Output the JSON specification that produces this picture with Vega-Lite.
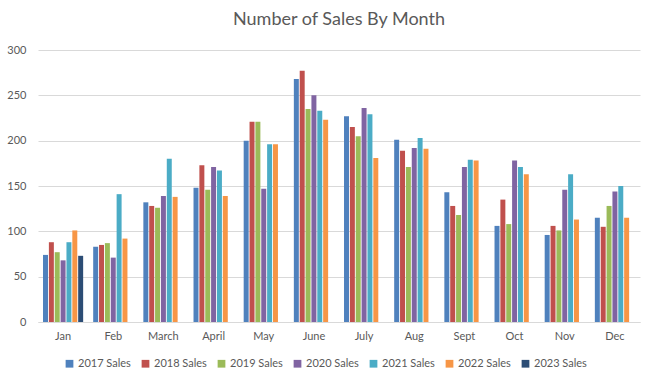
{
  "$schema": "https://vega.github.io/schema/vega-lite/v6.json",
  "autosize": "none",
  "width": 602,
  "height": 272,
  "padding": {"left": 38, "top": 50, "right": 16, "bottom": 68},
  "background": "white",
  "title": {"text": "Number of Sales By Month", "font": "Lato", "fontSize": 18, "fontWeight": "normal", "color": "#595959", "offset": 15, "anchor": "middle"},
  "config": {
    "view": {"stroke": null},
    "font": "Lato",
    "axis": {"labelFont": "Lato", "labelColor": "#595959", "labelFontSize": 11, "titleFontSize": 11}
  },
  "data": {"values": [
    {"month": "Jan", "series": "2017 Sales", "value": 74},
    {"month": "Jan", "series": "2018 Sales", "value": 88},
    {"month": "Jan", "series": "2019 Sales", "value": 77},
    {"month": "Jan", "series": "2020 Sales", "value": 68},
    {"month": "Jan", "series": "2021 Sales", "value": 88},
    {"month": "Jan", "series": "2022 Sales", "value": 101},
    {"month": "Jan", "series": "2023 Sales", "value": 73},
    {"month": "Feb", "series": "2017 Sales", "value": 83},
    {"month": "Feb", "series": "2018 Sales", "value": 85},
    {"month": "Feb", "series": "2019 Sales", "value": 87},
    {"month": "Feb", "series": "2020 Sales", "value": 71},
    {"month": "Feb", "series": "2021 Sales", "value": 141},
    {"month": "Feb", "series": "2022 Sales", "value": 92},
    {"month": "March", "series": "2017 Sales", "value": 132},
    {"month": "March", "series": "2018 Sales", "value": 128},
    {"month": "March", "series": "2019 Sales", "value": 126},
    {"month": "March", "series": "2020 Sales", "value": 139},
    {"month": "March", "series": "2021 Sales", "value": 180},
    {"month": "March", "series": "2022 Sales", "value": 138},
    {"month": "April", "series": "2017 Sales", "value": 148},
    {"month": "April", "series": "2018 Sales", "value": 173},
    {"month": "April", "series": "2019 Sales", "value": 146},
    {"month": "April", "series": "2020 Sales", "value": 171},
    {"month": "April", "series": "2021 Sales", "value": 167},
    {"month": "April", "series": "2022 Sales", "value": 139},
    {"month": "May", "series": "2017 Sales", "value": 200},
    {"month": "May", "series": "2018 Sales", "value": 221},
    {"month": "May", "series": "2019 Sales", "value": 221},
    {"month": "May", "series": "2020 Sales", "value": 147},
    {"month": "May", "series": "2021 Sales", "value": 196},
    {"month": "May", "series": "2022 Sales", "value": 196},
    {"month": "June", "series": "2017 Sales", "value": 268},
    {"month": "June", "series": "2018 Sales", "value": 277},
    {"month": "June", "series": "2019 Sales", "value": 235},
    {"month": "June", "series": "2020 Sales", "value": 250},
    {"month": "June", "series": "2021 Sales", "value": 233},
    {"month": "June", "series": "2022 Sales", "value": 223},
    {"month": "July", "series": "2017 Sales", "value": 227},
    {"month": "July", "series": "2018 Sales", "value": 215},
    {"month": "July", "series": "2019 Sales", "value": 205},
    {"month": "July", "series": "2020 Sales", "value": 236},
    {"month": "July", "series": "2021 Sales", "value": 229},
    {"month": "July", "series": "2022 Sales", "value": 181},
    {"month": "Aug", "series": "2017 Sales", "value": 201},
    {"month": "Aug", "series": "2018 Sales", "value": 189},
    {"month": "Aug", "series": "2019 Sales", "value": 171},
    {"month": "Aug", "series": "2020 Sales", "value": 192},
    {"month": "Aug", "series": "2021 Sales", "value": 203},
    {"month": "Aug", "series": "2022 Sales", "value": 191},
    {"month": "Sept", "series": "2017 Sales", "value": 143},
    {"month": "Sept", "series": "2018 Sales", "value": 128},
    {"month": "Sept", "series": "2019 Sales", "value": 118},
    {"month": "Sept", "series": "2020 Sales", "value": 171},
    {"month": "Sept", "series": "2021 Sales", "value": 179},
    {"month": "Sept", "series": "2022 Sales", "value": 178},
    {"month": "Oct", "series": "2017 Sales", "value": 106},
    {"month": "Oct", "series": "2018 Sales", "value": 135},
    {"month": "Oct", "series": "2019 Sales", "value": 108},
    {"month": "Oct", "series": "2020 Sales", "value": 178},
    {"month": "Oct", "series": "2021 Sales", "value": 171},
    {"month": "Oct", "series": "2022 Sales", "value": 163},
    {"month": "Nov", "series": "2017 Sales", "value": 96},
    {"month": "Nov", "series": "2018 Sales", "value": 106},
    {"month": "Nov", "series": "2019 Sales", "value": 101},
    {"month": "Nov", "series": "2020 Sales", "value": 146},
    {"month": "Nov", "series": "2021 Sales", "value": 163},
    {"month": "Nov", "series": "2022 Sales", "value": 113},
    {"month": "Dec", "series": "2017 Sales", "value": 115},
    {"month": "Dec", "series": "2018 Sales", "value": 105},
    {"month": "Dec", "series": "2019 Sales", "value": 128},
    {"month": "Dec", "series": "2020 Sales", "value": 144},
    {"month": "Dec", "series": "2021 Sales", "value": 150},
    {"month": "Dec", "series": "2022 Sales", "value": 115}
  ]},
  "mark": {"type": "bar"},
  "encoding": {
    "x": {
      "field": "month", "type": "nominal",
      "sort": ["Jan","Feb","March","April","May","June","July","Aug","Sept","Oct","Nov","Dec"],
      "scale": {"paddingInner": 0.2, "paddingOuter": 0.1},
      "axis": {"title": null, "labelAngle": 0, "ticks": false, "domainColor": "#d9d9d9", "labelPadding": 8, "grid": false}
    },
    "xOffset": {
      "field": "series", "type": "nominal",
      "scale": {"domain": ["2017 Sales","2018 Sales","2019 Sales","2020 Sales","2021 Sales","2022 Sales","2023 Sales"], "paddingInner": 0.15}
    },
    "y": {
      "field": "value", "type": "quantitative",
      "scale": {"domain": [0, 300]},
      "axis": {"title": null, "values": [0,50,100,150,200,250,300], "ticks": false, "domain": false, "gridColor": "#d9d9d9", "labelPadding": 12}
    },
    "color": {
      "field": "series", "type": "nominal",
      "scale": {
        "domain": ["2017 Sales","2018 Sales","2019 Sales","2020 Sales","2021 Sales","2022 Sales","2023 Sales"],
        "range": ["#4F81BD","#C0504D","#9BBB59","#8064A2","#4BACC6","#F79646","#2C4D75"]
      },
      "legend": {
        "title": null, "orient": "none", "direction": "horizontal", "legendX": 26, "legendY": 308,
        "symbolType": "square", "symbolSize": 60, "symbolStrokeWidth": 0,
        "labelFont": "Lato", "labelFontSize": 11, "labelColor": "#595959", "columnPadding": 9, "labelOffset": 3
      }
    }
  }
}
